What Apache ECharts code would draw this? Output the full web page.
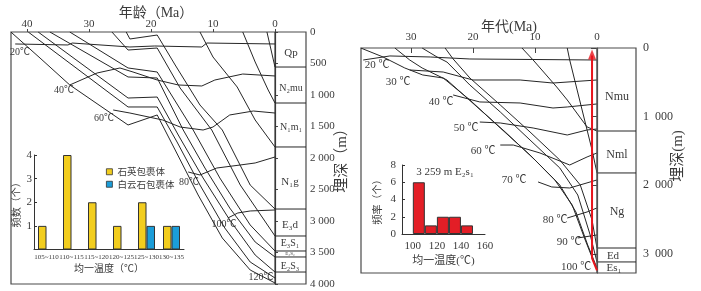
<!DOCTYPE html>
<html><head><meta charset="utf-8">
<script src="https://cdn.jsdelivr.net/npm/echarts@6/dist/echarts.min.js"></script>
<style>html,body{margin:0;padding:0;background:#fff}#c{width:701px;height:291px}</style>
</head><body><div id="c"></div>
<script>
// ---------- data ----------
const leftAgeTicks = [0, 10, 20, 30, 40];
const rightAgeTicks = [0, 10, 20, 30];
const rightDepthTicks = [0, 1000, 2000, 3000];
const leftStrataBase = [556, 1127, 1825, 2810, 3238, 3476, 3571, 3810];
const rightStrataBase = [1209, 1820, 2913, 3116];

// left burial curves [age Ma, depth m]
const burialL1 = [[1.3,0],[0,556]];
const burialL2 = [[5.2,0],[3.2,476],[1.1,921],[0,1127]];
const burialL3 = [[12.1,0],[10.0,397],[6.1,873],[3.2,1397],[0,1825]];
const burialL4 = [[24.0,0],[23.4,111],[19.0,48],[16.1,524],[12.1,1159],[8.5,1556],[4.0,2429],[0,2810]];
const burialL5 = [[26.3,0],[23.7,286],[19.0,254],[15.3,889],[10.2,1556],[5.6,2429],[0,3238]];
const burialL6 = [[33.1,0],[23.7,571],[19.0,635],[13.2,1556],[8.9,2317],[4.0,3063],[0,3476]];
const burialL7 = [[36.3,0],[23.7,714],[19.0,730],[14.8,1556],[11.3,2159],[7.3,2794],[3.2,3333],[0,3571]];
const burialL8 = [[38.2,0],[23.7,1048],[19.0,1032],[15.6,1635],[11.6,2317],[7.3,2984],[3.2,3540],[0,3810]];
const burialL9 = [[39.8,0],[23.7,1190],[19.0,1190],[15.8,1746],[12.1,2429],[8.1,3111],[4.0,3651],[0,3905]];
const burialL10 = [[42.6,0],[37.9,413],[33.1,841],[23.7,1476],[19.0,1317],[16.1,1873],[12.4,2587],[8.5,3270],[4.0,3778],[0,3984]];
// left isotherms
const isoL20 = [[41.9,190],[33.4,206],[32.7,175],[23.4,238],[19.4,222],[11.8,238],[11.0,175],[0,190]];
const isoL40 = [[33.1,841],[28.7,651],[25.0,571],[22.9,635],[19.0,762],[15.6,841],[11.8,857],[9.7,762],[5.2,667],[0,698]];
const isoL60 = [[26.1,1238],[23.4,1286],[18.1,1397],[15.3,1508],[11.6,1556],[10.0,1508],[7.3,1317],[3.5,1254],[0,1286]];
const isoL80 = [[14.0,2222],[12.1,2270],[9.4,2159],[5.6,2111],[3.2,2079],[0,1984]];
const isoL100 = [[7.6,2952],[6.0,2873],[4.0,2841],[0,2825]];

// right burial curves
const burialR1 = [[38.1,0],[34.5,131],[31.0,291],[28.1,393],[24.8,437],[20.5,757],[15.6,1165],[10.8,1558],[6.8,1922],[4.0,2286],[1.9,2796],[0,3233]];
const burialR2 = [[32.6,0],[30.2,175],[28.2,291],[24.2,466],[19.7,830],[14.8,1223],[10.0,1631],[6.0,1995],[3.4,2388],[1.5,2869],[0,3203]];
const burialR3 = [[28.2,0],[25.8,131],[24.2,204],[20.5,539],[15.6,932],[10.8,1340],[6.0,1747],[3.1,2141],[1.1,2723],[0,3116]];
const burialR4 = [[24.5,0],[23.2,160],[20.5,437],[15.6,830],[10.8,1223],[6.0,1631],[2.7,1995],[0.8,2505],[0,2913]];
const burialR5 = [[12.1,0],[10.3,175],[6.5,568],[4.8,757],[1.6,1150],[0,1209]];
const burialR6 = [[4.8,0],[4.4,175],[3.2,612],[2.4,903],[0.8,1485],[0,1820]];
// right isotherms
const isoR20 = [[37.7,175],[33.4,116],[26.9,131],[20.5,160],[0,175]];
const isoR30 = [[30.2,320],[24.8,350],[20.0,466],[12.4,466],[7.1,510],[0,466]];
const isoR40 = [[23.2,684],[18.9,786],[12.4,801],[7.1,874],[4.8,859],[0,815]];
const isoR50 = [[18.9,1078],[15.6,1092],[10.3,1165],[4.8,1267],[1.6,1194],[0,1180]];
const isoR60 = [[15.6,1413],[13.5,1413],[9.2,1529],[4.4,1704],[1.6,1587],[0,1529]];
const isoR70 = [[9.5,1951],[7.3,2024],[4.4,2039],[0,1922]];
const isoR80 = [[4.8,2476],[1.6,2388],[0,2330]];
const isoR90 = [[3.1,2767],[0,2723]];
const redPath = [[0,3240],[0.8,3060],[0.8,110]];
const redHead = [[0.8,95]];

// left histogram
const histCats = ['105~110','110~115','115~120','120~125','125~130','130~135'];
const quartzCounts = [1, 4, 2, 1, 2, 1];
const dolomiteCounts = [0, 0, 0, 0, 1, 1];
// right histogram
const rHistBins = [105, 115, 125, 135, 145];
const rHistCounts = [6, 1, 2, 2, 1];
const rHistTicks = [100, 120, 140, 160];

// ---------- chart ----------
const FONT = '"Liberation Serif","Noto Sans CJK SC",serif';
const CJK = '"Noto Sans CJK SC",sans-serif';
const TXT = '#3a3a3a';
const LINE = '#262626';
const fmtDepth = v => v >= 1000 ? Math.floor(v/1000) + ' ' + String(v%1000).padStart(3,'0') : String(v);

function ln(data, g, extra) {
  return Object.assign({type:'line', xAxisIndex:g, yAxisIndex:g, data, symbol:'none', silent:true,
    lineStyle:{color:LINE, width:1}, z:3}, extra || {});
}
const series = [];
[burialL1,burialL2,burialL3,burialL4,burialL5,burialL6,burialL7,burialL8,burialL9,burialL10,
 isoL20,isoL40,isoL60,isoL80,isoL100].forEach(d => series.push(ln(d,0)));
leftStrataBase.forEach(d => series.push(ln([[0,d],[-5,d]],0)));
series.push(ln([[0,0],[0,4000]],0));
[burialR1,burialR2,burialR3,burialR4,burialR5,burialR6,
 isoR20,isoR30,isoR40,isoR50,isoR60,isoR70,isoR80,isoR90].forEach(d => series.push(ln(d,1)));
rightStrataBase.forEach(d => series.push(ln([[0,d],[-6.29,d]],1)));
series.push(ln([[0,0],[0,3277]],1, {lineStyle:{color:'#555', width:1.5}}));
series.push(ln(redPath,1,{lineStyle:{color:'#e8141c', width:2}, z:5}));
series.push({type:'scatter', xAxisIndex:1, yAxisIndex:1, data:redHead, symbol:'triangle', symbolSize:[8,10],
  itemStyle:{color:'#e8141c'}, silent:true, z:6});
series.push({type:'bar', name:'石英包裹体', xAxisIndex:2, yAxisIndex:2, data:quartzCounts, barWidth:8.5, barGap:'0%',
  itemStyle:{color:'#f2cd1e', borderColor:'#333', borderWidth:1}, silent:true});
series.push({type:'bar', name:'白云石包裹体', xAxisIndex:2, yAxisIndex:2, data:dolomiteCounts, barWidth:8.5, barGap:'0%',
  itemStyle:{color:'#1b9dd9', borderColor:'#333', borderWidth:1}, silent:true});
series.push({type:'bar', xAxisIndex:3, yAxisIndex:3, data:rHistBins.map((b,i)=>[b,rHistCounts[i]]), barWidth:12,
  itemStyle:{color:'#e31e26', borderColor:'#333', borderWidth:1}, silent:true});

function txt(text, x, y, size, opts) {
  return Object.assign({type:'text', x, y, style:Object.assign({text, fill:TXT, font:`${size}px ${FONT}`,
    textAlign:'center', textVerticalAlign:'middle'}, (opts && opts.style) || {})}, opts && opts.el || {});
}
const graphics = [
  txt('年龄（Ma）',156,13,14),
  txt('年代(Ma)',509,27,14),
  txt('埋深（m）',342,157,15,{el:{rotation:Math.PI/2}}),
  txt('埋深(m)',678,156,15,{el:{rotation:Math.PI/2}}),
  txt('20℃',20,52,10), txt('40℃',64,90,10), txt('60℃',104,118,10), txt('80℃',189,182,10),
  txt('100℃',224,224,10), txt('120℃',261,277,10),
  txt('Qp',291,53,11), txt('N₂mu',291,88,10), txt('N₁m₁',291,127,10), txt('N₁g',290,182,11),
  txt('E₃d',290,225,11), txt('E₃S₁',290,243,10), txt('E₃S₂',290,254,5), txt('E₂S₃',290,266,10),
  txt('20 ℃',377,65,11), txt('30 ℃',398,82,11), txt('40 ℃',441,102,11), txt('50 ℃',466,128,11),
  txt('60 ℃',483,151,11), txt('70 ℃',514,180,11), txt('80 ℃',555,220,11), txt('90 ℃',569,242,11),
  txt('100 ℃',576,267,11),
  txt('Nmu',617,97,12), txt('Nml',617,155,12), txt('Ng',617,212,12), txt('Ed',613,256,11), txt('Es₁',614,268,11),
  txt('3 259 m E₂s₁',445,172,11)
];

const axisText = {fontFamily:FONT, color:TXT, fontSize:11};
const option = {
  animation:false,
  backgroundColor:'#fff',
  grid:[
    {left:11, top:32, width:295, height:252, show:true, borderColor:'#4a4a4a', borderWidth:1.2, backgroundColor:'transparent'},
    {left:361, top:48, width:275, height:225, show:true, borderColor:'#4a4a4a', borderWidth:1.2, backgroundColor:'transparent'},
    {left:34, top:155, width:150, height:94.5},
    {left:402, top:165, width:83, height:69}
  ],
  xAxis:[
    {gridIndex:0, type:'value', inverse:true, min:-5, max:42.58, position:'top',
      axisLine:{show:false}, splitLine:{show:false},
      axisTick:{show:true, customValues:leftAgeTicks, length:3, lineStyle:{color:'#444'}},
      axisLabel:Object.assign({customValues:leftAgeTicks, margin:2}, axisText)},
    {gridIndex:1, type:'value', inverse:true, min:-6.29, max:38.06, position:'top',
      axisLine:{show:false}, splitLine:{show:false},
      axisTick:{show:true, inside:true, customValues:rightAgeTicks, length:5, lineStyle:{color:'#444'}},
      axisLabel:Object.assign({customValues:rightAgeTicks, margin:5}, axisText)},
    {gridIndex:2, type:'category', data:histCats,
      axisLine:{lineStyle:{color:'#333'}}, axisTick:{show:false},
      axisLabel:{interval:0, fontSize:7, margin:4, fontFamily:FONT, color:TXT},
      name:'均一温度（℃）', nameLocation:'middle', nameGap:15, nameTextStyle:{fontSize:10, fontFamily:FONT, color:TXT}},
    {gridIndex:3, type:'value', min:91, max:160, splitLine:{show:false},
      axisLine:{lineStyle:{color:'#333'}}, axisTick:{show:false},
      axisLabel:Object.assign({customValues:rHistTicks, margin:7}, axisText),
      name:'均一温度(℃)', nameLocation:'middle', nameGap:22, nameTextStyle:{fontSize:11, fontFamily:FONT, color:TXT}}
  ],
  yAxis:[
    {gridIndex:0, type:'value', inverse:true, min:0, max:4000, interval:500, position:'right',
      axisLine:{show:true, lineStyle:{color:'#4a4a4a', width:1.2}}, splitLine:{show:false},
      axisTick:{show:true, length:3, lineStyle:{color:'#444'}},
      axisLabel:Object.assign({formatter:fmtDepth, margin:4}, axisText)},
    {gridIndex:1, type:'value', inverse:true, min:0, max:3277, position:'right',
      axisLine:{show:true, lineStyle:{color:'#4a4a4a', width:1.2}}, splitLine:{show:false},
      axisTick:{show:true, inside:true, length:6, customValues:rightDepthTicks, lineStyle:{color:'#444'}},
      axisLabel:Object.assign({}, axisText, {customValues:rightDepthTicks, formatter:v => fmtDepth(v).replace(' ','  '), margin:7, fontSize:12})},
    {gridIndex:2, type:'value', min:0, max:4, interval:1, splitLine:{show:false},
      axisLine:{show:true, lineStyle:{color:'#333'}}, axisTick:{show:true, inside:true, length:3},
      axisLabel:Object.assign({formatter:v => v === 0 ? '' : v, margin:2}, axisText),
      name:'频数（个）', nameLocation:'middle', nameGap:13, nameRotate:90, nameTextStyle:{fontSize:10, fontFamily:CJK, color:TXT}},
    {gridIndex:3, type:'value', min:0, max:8, interval:2, splitLine:{show:false},
      axisLine:{show:true, lineStyle:{color:'#333'}}, axisTick:{show:true, inside:true, length:3},
      axisLabel:Object.assign({margin:6}, axisText),
      name:'频率（个）', nameLocation:'middle', nameGap:20, nameRotate:90, nameTextStyle:{fontSize:10, fontFamily:CJK, color:TXT}}
  ],
  legend:{left:101, top:162, orient:'vertical', itemWidth:6, itemHeight:6, itemGap:3, icon:'rect',
    data:['石英包裹体','白云石包裹体'], textStyle:{fontSize:9.5, fontFamily:CJK, color:TXT}, selectedMode:false,
    itemStyle:{borderColor:'#333', borderWidth:0.8}},
  graphic:graphics,
  series
};
const chart = echarts.init(document.getElementById('c'), null, {renderer:'canvas'});
chart.setOption(option);
</script></body></html>
